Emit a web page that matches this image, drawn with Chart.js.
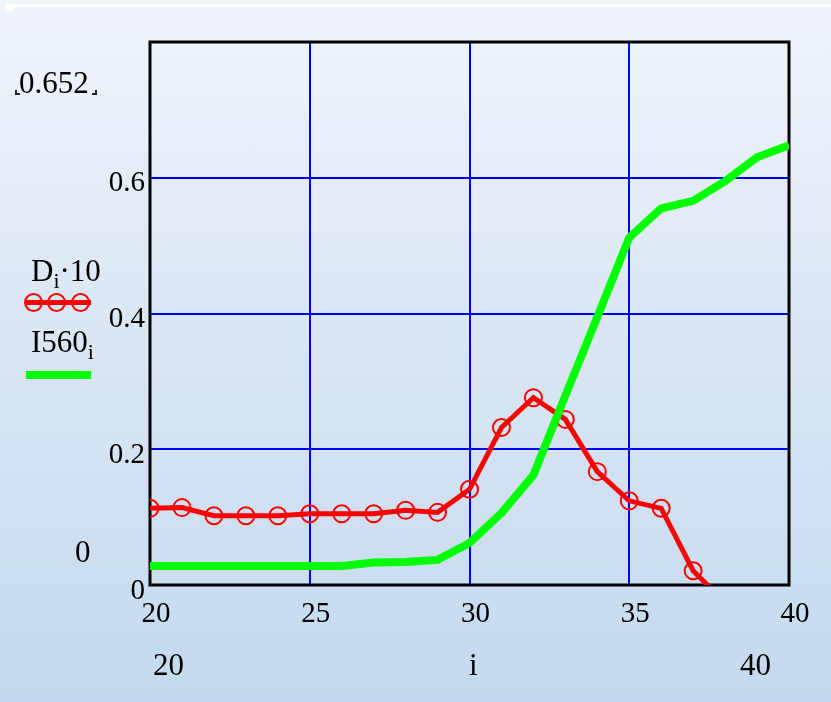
<!DOCTYPE html>
<html>
<head>
<meta charset="utf-8">
<script src="https://cdn.jsdelivr.net/npm/chart.js@4/dist/chart.umd.min.js"></script>
<style>
  html, body { margin: 0; padding: 0; }
  body {
    width: 831px;
    height: 702px;
    position: relative;
    overflow: hidden;
    background: linear-gradient(to bottom, #f0f5fb 0%, #dce7f4 45%, #c4d9ef 100%);
    font-family: 'Liberation Serif', 'Times New Roman', serif;
  }
  #chart-wrap { position: absolute; left: 0; top: 0; width: 831px; height: 702px; }
  .lbl { position: absolute; font-size: 31px; line-height: 31px; color: #000; white-space: nowrap; }
  .sub { font-size: 22px; position: relative; top: 7px; }
  .corner { position: absolute; width: 3px; height: 3px; border-bottom: 2px solid #222; }
  .corner.l { border-left: 2px solid #222; }
  .corner.r { border-right: 2px solid #222; }
  .top-strip { position: absolute; left: 5px; top: 4px; right: 0; height: 3px; background: #fff; }
  .top-box { position: absolute; left: 5px; top: 4px; width: 9px; height: 7px; background: #fff; }
  .leg-line { position: absolute; }
  .leg-dot {
    position: absolute; width: 15px; height: 15px; border: 2px solid #ff0000;
    border-radius: 50%; box-sizing: content-box;
  }
</style>
</head>
<body>
<div class="top-strip"></div>
<div class="top-box"></div>
<div id="chart-wrap"><canvas id="chart"></canvas></div>

<!-- axis limit placeholders -->
<div class="lbl" style="left:19px; top:67px;">0.652</div>
<div class="corner l" style="left:15px; top:90px;"></div>
<div class="corner r" style="left:92px; top:90px;"></div>
<div class="lbl" style="left:75px; top:536px;">0</div>
<div class="lbl" style="left:153px; top:649px;">20</div>
<div class="lbl" style="left:469px; top:649px;">i</div>
<div class="lbl" style="left:740px; top:649px;">40</div>

<!-- legend -->
<div class="lbl" style="left:31px; top:255px;">D<span class="sub">i</span>·10</div>
<div class="leg-line" style="left:26px; top:300px; width:65px; height:5px; background:#ff0000;"></div>
<div class="leg-dot" style="left:24px; top:293px;"></div>
<div class="leg-dot" style="left:47px; top:293px;"></div>
<div class="leg-dot" style="left:71px; top:293px;"></div>
<div class="lbl" style="left:31px; top:326px;">I560<span class="sub">i</span></div>
<div class="leg-line" style="left:26px; top:371px; width:65px; height:8px; background:#00ff00;"></div>

<script>
const xValues = [20, 21, 22, 23, 24, 25, 26, 27, 28, 29, 30, 31, 32, 33, 34, 35, 36, 37, 38, 39, 40];

// D_i * 10 (red, circles) - goes below zero after i = 37
const dValues = [0.113, 0.114, 0.102, 0.102, 0.102, 0.105, 0.105, 0.105, 0.110, 0.107,
  0.141, 0.232, 0.276, 0.244, 0.167, 0.124, 0.113, 0.021, -0.026];

// I560_i (green, thick line)
const iValues = [0.028, 0.028, 0.028, 0.028, 0.028, 0.028, 0.028, 0.033, 0.034, 0.037,
  0.062, 0.106, 0.162, 0.279, 0.395, 0.512, 0.555, 0.566, 0.595, 0.630, 0.648];

const xTicks = [20, 25, 30, 35, 40];
const yTicks = [0, 0.2, 0.4, 0.6, 0.8];
const yTickLabels = ['0', '0.2', '0.4', '0.6', ''];

const SERIF = "'Liberation Serif', 'Times New Roman', serif";

const plotBoxPlugin = {
  id: 'plotBox',
  beforeDatasetsDraw(chart) {
    const { ctx, chartArea } = chart;
    ctx.save();
    ctx.strokeStyle = '#000';
    ctx.lineWidth = 3;
    ctx.strokeRect(chartArea.left, chartArea.top, chartArea.right - chartArea.left, chartArea.bottom - chartArea.top);
    ctx.restore();
  },
};

const toPoints = (values) => values.map((value, index) => ({ x: xValues[index], y: value }));

new Chart(document.getElementById('chart'), {
  type: 'line',
  data: {
    datasets: [
      {
        label: 'I560',
        data: toPoints(iValues),
        borderColor: '#00ff00',
        borderWidth: 8,
        pointRadius: 0,
        fill: false,
        tension: 0,
        borderJoinStyle: 'miter',
      },
      {
        label: 'D*10',
        data: toPoints(dValues),
        borderColor: '#ff0000',
        borderWidth: 5,
        pointRadius: 8.5,
        pointBorderWidth: 2,
        pointBorderColor: '#ff0000',
        pointBackgroundColor: 'rgba(0,0,0,0)',
        fill: false,
        tension: 0,
      },
    ],
  },
  options: {
    responsive: true,
    maintainAspectRatio: false,
    animation: false,
    layout: { padding: { top: 42, right: 42, left: 0, bottom: 0 } },
    plugins: {
      legend: { display: false },
      tooltip: { enabled: false },
    },
    scales: {
      x: {
        type: 'linear',
        min: 20,
        max: 40,
        afterFit(scale) { scale.height = 117; },
        afterBuildTicks(scale) { scale.ticks = xTicks.map((value) => ({ value })); },
        grid: { color: '#0000ff', lineWidth: 2, drawTicks: false },
        border: { display: false },
        ticks: {
          font: { family: SERIF, size: 29 },
          color: '#000',
          padding: 12,
          labelOffset: 6,
          maxRotation: 0,
          callback: (value) => String(value),
        },
      },
      y: {
        type: 'linear',
        min: 0,
        max: 0.8,
        afterFit(scale) { scale.width = 150; },
        afterBuildTicks(scale) { scale.ticks = yTicks.map((value) => ({ value })); },
        grid: { color: '#0000ff', lineWidth: 2, drawTicks: false },
        border: { display: false },
        ticks: {
          font: { family: SERIF, size: 29 },
          color: '#000',
          padding: 5,
          labelOffset: 6,
          callback: (value) => yTickLabels[yTicks.indexOf(value)] ?? '',
        },
      },
    },
  },
  plugins: [plotBoxPlugin],
});
</script>
</body>
</html>
